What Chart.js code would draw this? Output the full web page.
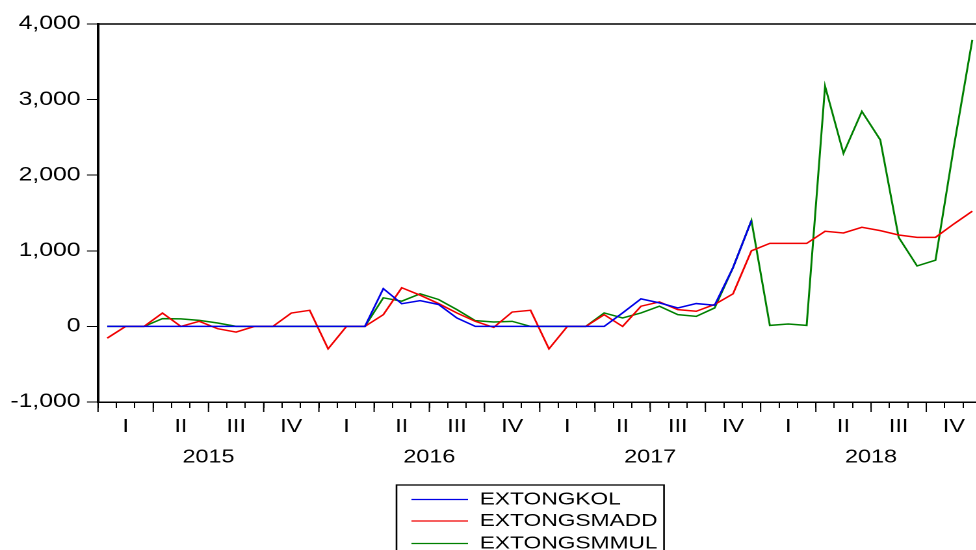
<!DOCTYPE html>
<html>
<head>
<meta charset="utf-8">
<script src="https://cdn.jsdelivr.net/npm/chart.js@4.4.0/dist/chart.umd.min.js"></script>
<style>
  html, body { margin: 0; padding: 0; background: #fff; overflow: hidden; }
  /* the original picture is stretched sideways, so the canvas is too */
  #wrap { width: 762px; height: 550px; transform: scaleX(1.3); transform-origin: 0 0; }
</style>
</head>
<body>
<div id="wrap"><canvas id="chart" width="762" height="550"></canvas></div>
<script>
const years = ["2015", "2016", "2017", "2018"];
const quarters = ["I", "II", "III", "IV"];

// monthly values, Jan 2015 .. Dec 2018
const extongkol = [
  0, 0, 0, 0, 0, 0, 0, 0, 0, 0, 0, 0,
  0, 0, 0, 500, 300, 340, 290, 110, 0, 0, 0, 0,
  0, 0, 0, 0, 178, 364, 311, 244, 302, 280, 778, 1400
];
const extongsmadd = [
  -155, 0, 0, 177, 0, 67, -30, -75, 0, 0, 177, 213,
  -297, 0, 0, 155, 511, 413, 302, 177, 67, -13, 190, 213,
  -297, 0, 0, 155, 0, 267, 324, 222, 200, 290, 431, 1000,
  1098, 1098, 1098, 1258, 1236, 1311, 1267, 1209, 1178, 1178, 1356, 1524
];
const extongsmmul = [
  0, 0, 0, 103, 100, 80, 45, 0, 0, 0, 0, 0,
  0, 0, 0, 378, 333, 431, 356, 222, 76, 58, 67, 0,
  0, 0, 0, 178, 111, 178, 267, 155, 133, 244, 778, 1400,
  13, 31, 13, 3178, 2289, 2844, 2467, 1178, 800, 876, 2380, 3790
];

const nMonths = years.length * 12;
const toPoints = (arr) => arr.map((v, i) => ({ x: i, y: v }));

// tick values: every month boundary plus the middle of each quarter
let xTickValues = [];
for (let m = 0; m <= nMonths; m++) xTickValues.push(m - 0.5);
for (let q = 0; q < years.length * 4; q++) xTickValues.push(q * 3 + 1);
xTickValues.sort((a, b) => a - b);

const isBoundary = (v) => Math.abs(v - Math.round(v)) > 0.25;

Chart.defaults.font.family = '"Liberation Sans", Arial, sans-serif';
Chart.defaults.color = "#000";

const framePlugin = {
  id: "frame",
  afterDraw(chart) {
    const { ctx, chartArea: a, scales } = chart;
    const xs = scales.x;
    ctx.save();
    ctx.strokeStyle = "#000";
    ctx.lineWidth = 1.5;
    ctx.beginPath();
    ctx.moveTo(a.left, a.top);
    ctx.lineTo(a.right, a.top);
    ctx.lineTo(a.right, a.bottom);
    ctx.stroke();

    // longer marks at quarter boundaries
    ctx.lineWidth = 1;
    for (let q = 0; q <= years.length * 4; q++) {
      const px = xs.getPixelForValue(q * 3 - 0.5);
      ctx.beginPath();
      ctx.moveTo(px, a.bottom);
      ctx.lineTo(px, a.bottom + 10);
      ctx.stroke();
    }

    // legend box under the plot
    ctx.font = '17.5px "Liberation Sans", Arial, sans-serif';
    ctx.textBaseline = "middle";
    const boxLeft = 305, boxTop = 485, lineX0 = 316.5, lineX1 = 360, textX = 369;
    const rowY = [499.5, 521, 543.5];
    let widest = 0;
    chart.data.datasets.forEach((ds) => {
      widest = Math.max(widest, ctx.measureText(ds.label).width);
    });
    ctx.lineWidth = 1.3;
    ctx.strokeRect(boxLeft, boxTop, textX + widest + 5 - boxLeft, 80);
    chart.data.datasets.forEach((ds, i) => {
      ctx.strokeStyle = ds.borderColor;
      ctx.lineWidth = 1.3;
      ctx.beginPath();
      ctx.moveTo(lineX0, rowY[i]);
      ctx.lineTo(lineX1, rowY[i]);
      ctx.stroke();
      ctx.fillStyle = "#000";
      ctx.fillText(ds.label, textX, rowY[i]);
    });
    ctx.restore();
  }
};

new Chart(document.getElementById("chart"), {
  type: "line",
  data: {
    datasets: [
      { label: "EXTONGKOL", data: toPoints(extongkol), borderColor: "rgb(0,0,230)" },
      { label: "EXTONGSMADD", data: toPoints(extongsmadd), borderColor: "rgb(240,0,0)" },
      { label: "EXTONGSMMUL", data: toPoints(extongsmmul), borderColor: "rgb(0,128,0)" }
    ]
  },
  options: {
    responsive: false,
    animation: false,
    devicePixelRatio: 2,
    layout: { padding: { top: 24, right: 7, left: 0, bottom: 0 } },
    elements: {
      line: { borderWidth: 1.5, tension: 0 },
      point: { radius: 0, hoverRadius: 0 }
    },
    plugins: { legend: { display: false }, tooltip: { enabled: false } },
    scales: {
      x: {
        type: "linear",
        min: -0.5,
        max: nMonths - 0.5,
        afterFit: (scale) => { scale.height = 148; },
        afterBuildTicks: (scale) => {
          scale.ticks = xTickValues.map((v) => ({ value: v }));
        },
        grid: {
          drawOnChartArea: false,
          tickLength: 6,
          tickWidth: 1,
          tickColor: (ctx) => (ctx.tick && isBoundary(ctx.tick.value) ? "#000" : "rgba(0,0,0,0)")
        },
        border: { color: "#000", width: 1.5 },
        ticks: {
          autoSkip: false,
          maxRotation: 0,
          minRotation: 0,
          padding: 3.75,
          font: { size: 18, lineHeight: 30.5 / 18 },
          callback: (value) => {
            if (!isBoundary(value)) return quarters[((value - 1) / 3) % 4];
            const m = value + 0.5;
            if (m % 12 === 6) return ["", years[(m - 6) / 12]];
            return "";
          }
        }
      },
      y: {
        min: -1000,
        max: 4000,
        afterFit: (scale) => { scale.width = 75.4; },
        grid: { drawOnChartArea: false, tickLength: 8.5, tickWidth: 1, tickColor: "#000" },
        border: { color: "#000", width: 2 },
        ticks: {
          stepSize: 1000,
          padding: 5,
          font: { size: 19 },
          callback: (v) => v.toLocaleString("en-US")
        }
      }
    }
  },
  plugins: [framePlugin]
});
</script>
</body>
</html>
